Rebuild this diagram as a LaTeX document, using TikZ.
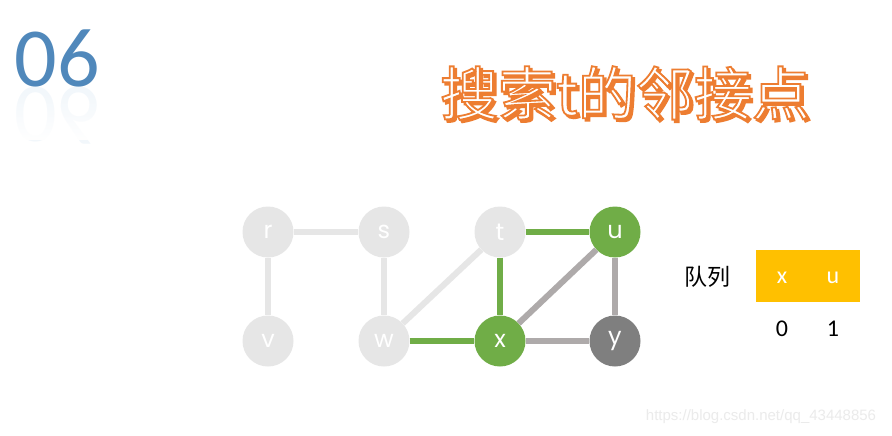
\documentclass[tikz,border=0pt]{standalone}
\usepackage{fontspec}
\usetikzlibrary{fadings}
\setmainfont{Carlito}
\newfontfamily\cjk{Noto Sans CJK SC}
\newfontfamily\nodefont{Poppins}
\newfontfamily\wmfont{Liberation Sans}
\definecolor{lightg}{HTML}{E6E6E6}
\definecolor{midg}{HTML}{AEAAAA}
\definecolor{darkg}{HTML}{7F7F7F}
\definecolor{grn}{HTML}{70AD47}
\definecolor{gold}{HTML}{FFC000}
\definecolor{orng}{HTML}{ED7D31}
\definecolor{blu}{HTML}{5B9BD5}
\newcommand{\strokeon}{\special{pdf:literal direct 2 Tr 1.8 w 0.929 0.490 0.192 RG}}
\newcommand{\strokeoff}{\special{pdf:literal direct 0 Tr}}
\tikzset{
  vert/.style={circle, minimum size=51pt, inner sep=0pt, text=white, font=\nodefont\fontsize{24}{26}\selectfont},
  edgeL/.style={line width=6pt, draw=lightg},
  edgeG/.style={line width=6pt, draw=grn},
  edgeM/.style={line width=6pt, draw=midg},
  qtxt/.style={font=\fontsize{24}{28}\selectfont},
  ttl/.style={font=\cjk\fontsize{58}{66}\selectfont, inner sep=0pt}
}
\begin{document}
\begin{tikzpicture}[x=1pt,y=-1pt]
\useasboundingbox[fill=white] (0,0) rectangle (892,436);
% 06 with reflection
\node[text=blu, font=\fontsize{84}{90}\selectfont, inner sep=0pt, yscale=-1, opacity=0.08] (numr) at (57,116) {06};
\fill[white, path fading=north] (0,92) rectangle (120,140);
\node[text=blu!88!black, font=\fontsize{84}{90}\selectfont, inner sep=0pt] (num) at (57,58) {06};
% title: shadow, then white text with orange outline
\node[ttl, text=orng] (titleshadow) at (627.5,95.5) {\strokeon 搜索t的邻接点\strokeoff};
\node[ttl, text=white] (title) at (625,93) {\strokeon 搜索t的邻接点\strokeoff};
% graph nodes
\node[vert, fill=lightg] (r) at (268,232) {r};
\node[vert, fill=lightg] (s) at (384,232) {s};
\node[vert, fill=lightg] (t) at (500,232) {t};
\node[vert, fill=grn] (u) at (615,232) {u};
\node[vert, fill=lightg] (v) at (268,341) {v};
\node[vert, fill=lightg] (w) at (384,341) {w};
\node[vert, fill=grn] (x) at (500,341) {x};
\node[vert, fill=darkg] (y) at (615,341) {y};
% edges
\draw[edgeL] (r) -- (s);
\draw[edgeL] (r) -- (v);
\draw[edgeL] (s) -- (w);
\draw[edgeL] (w) -- (t);
\draw[edgeG] (t) -- (u);
\draw[edgeG] (t) -- (x);
\draw[edgeG] (w) -- (x);
\draw[edgeM] (u) -- (x);
\draw[edgeM] (u) -- (y);
\draw[edgeM] (x) -- (y);
% queue
\node[font=\cjk\fontsize{23}{28}\selectfont, inner sep=0pt] (ql) at (707,277) {队列};
\node[fill=gold, minimum width=104pt, minimum height=52pt, inner sep=0pt] (qbox) at (808,276) {};
\node[qtxt, text=white] (qx) at (782,278) {x};
\node[qtxt, text=white] (qu) at (833,278) {u};
\node[qtxt] (q0) at (782,329) {0};
\node[qtxt] (q1) at (833,329) {1};
% watermark
\node[font=\wmfont\fontsize{15}{18}\selectfont, text=black!8] (wm) at (761,417) {https://blog.csdn.net/qq\_43448856};
\end{tikzpicture}
\end{document}
